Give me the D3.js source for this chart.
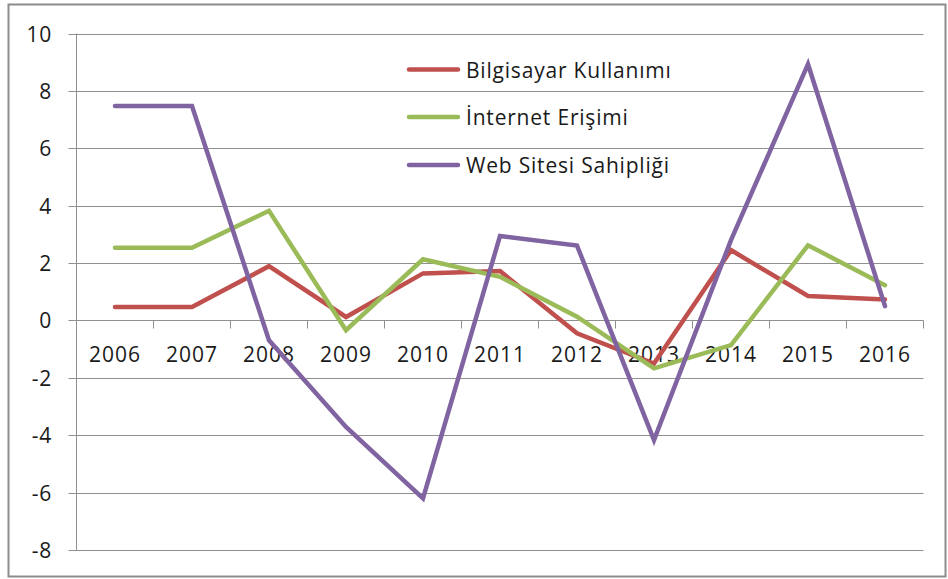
<!DOCTYPE html>
<html>
<head>
<meta charset="utf-8">
<script src="https://cdn.jsdelivr.net/npm/d3@7"></script>
<style>
  html, body { margin: 0; padding: 0; background: #fff; }
  svg { display: block; }
  text { font-family: "Open Sans", Lato, sans-serif; fill: #1a1a1a; }
</style>
</head>
<body>
<svg id="chart" width="948" height="579"></svg>
<script>
const years = ["2006","2007","2008","2009","2010","2011","2012","2013","2014","2015","2016"];
const bilgisayar = [0.47, 0.47, 1.89, 0.12, 1.64, 1.72, -0.45, -1.5, 2.45, 0.85, 0.73];
const internet   = [2.53, 2.53, 3.82, -0.34, 2.13, 1.52, 0.13, -1.67, -0.86, 2.62, 1.23];
const webSitesi  = [7.47, 7.47, -0.69, -3.71, -6.2, 2.94, 2.61, -4.17, 2.8, 8.93, 0.5];
const seriesNames = ["Bilgisayar Kullanımı", "İnternet Erişimi", "Web Sitesi Sahipliği"];
const seriesColors = ["#C0504D", "#9BBB59", "#8064A2"];
const yTicks = [10, 8, 6, 4, 2, 0, -2, -4, -6, -8];

const series = [bilgisayar, internet, webSitesi];

const svg = d3.select("#chart");
const plotLeft = 76.5, plotRight = 923.5, plotTop = 33.5, plotBottom = 550;

// outer border
svg.append("rect")
  .attr("x", 8.5).attr("y", 4.5).attr("width", 937).attr("height", 572)
  .attr("fill", "#fff").attr("stroke", "#8c8c8c").attr("stroke-width", 2);

const x = d3.scaleBand().domain(years).range([plotLeft, plotRight]).padding(0);
const y = d3.scaleLinear().domain([-8, 10]).range([plotBottom, plotTop]);

// gridlines
svg.append("g").selectAll("line").data(yTicks).join("line")
  .attr("x1", plotLeft - 8).attr("x2", plotRight)
  .attr("y1", d => Math.round(y(d)) + 0.5).attr("y2", d => Math.round(y(d)) + 0.5)
  .attr("stroke", "#8f8f8f").attr("stroke-width", 1);

// y axis line
svg.append("line")
  .attr("x1", plotLeft).attr("x2", plotLeft).attr("y1", plotTop).attr("y2", plotBottom)
  .attr("stroke", "#8f8f8f").attr("stroke-width", 1);

// y labels
svg.append("g").selectAll("text").data(yTicks).join("text")
  .attr("x", 52).attr("y", d => y(d))
  .attr("text-anchor", "end").attr("dominant-baseline", "central")
  .style("font-size", "21px").style("letter-spacing", "0.8px")
  .text(d => d);

// x axis at zero
const y0 = Math.round(y(0)) + 0.5;
const bounds = years.map(d => x(d)).concat([plotRight]);
svg.append("g").selectAll("line").data(bounds).join("line")
  .attr("x1", d => d).attr("x2", d => d)
  .attr("y1", y0).attr("y2", y0 + 8)
  .attr("stroke", "#8f8f8f").attr("stroke-width", 1);

svg.append("g").selectAll("text").data(years).join("text")
  .attr("x", d => x(d) + x.bandwidth() / 2).attr("y", 362)
  .attr("text-anchor", "middle")
  .style("font-size", "21px").style("letter-spacing", "1px")
  .text(d => d);

// lines
const line = d3.line()
  .x((d, i) => x(years[i]) + x.bandwidth() / 2)
  .y(d => y(d));

svg.append("g").selectAll("path").data(series).join("path")
  .attr("d", d => line(d))
  .attr("fill", "none")
  .attr("stroke", (d, i) => seriesColors[i])
  .attr("stroke-width", 4.5)
  .attr("stroke-linejoin", "miter")
  .attr("stroke-linecap", "round");

// legend
const legendY = [69.5, 117, 165];
const lg = svg.append("g").selectAll("g").data(seriesNames).join("g")
  .attr("transform", (d, i) => `translate(0,${legendY[i]})`);
lg.append("line")
  .attr("x1", 409).attr("x2", 458).attr("y1", 0).attr("y2", 0)
  .attr("stroke", (d, i) => seriesColors[i])
  .attr("stroke-width", 4.5).attr("stroke-linecap", "round");
lg.append("text")
  .attr("x", 466).attr("y", 0)
  .attr("dominant-baseline", "central")
  .style("font-size", "21px").style("letter-spacing", "0.8px")
  .text(d => d);
</script>
</body>
</html>
